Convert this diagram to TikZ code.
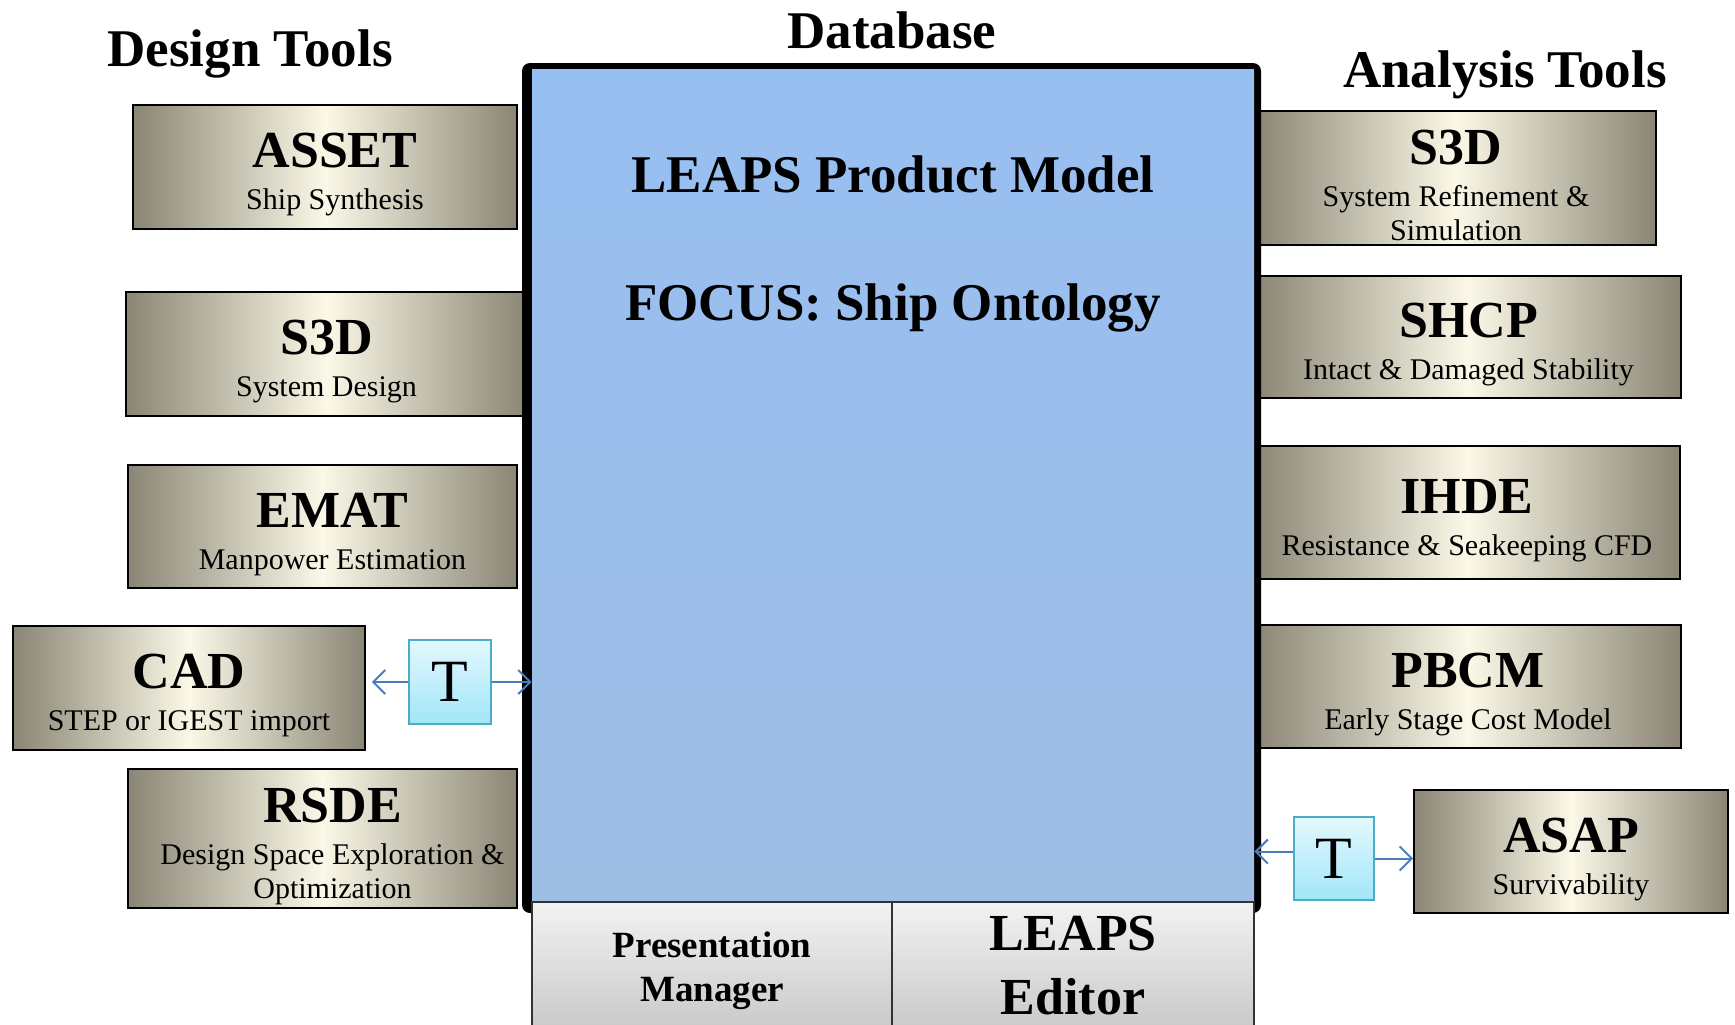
\documentclass[tikz,border=0pt]{standalone}
\usepackage{fontspec}
\setmainfont{Liberation Serif}
\usepackage{tikz}
\usetikzlibrary{arrows.meta}
\definecolor{toolDark}{HTML}{8A8574}
\definecolor{toolLight}{HTML}{FBF8E8}
\definecolor{dbTop}{HTML}{98BFF2}
\definecolor{dbBot}{HTML}{9FBEE4}
\definecolor{panelTop}{HTML}{F2F2F2}
\definecolor{panelBot}{HTML}{C9C9C9}
\definecolor{tTop}{HTML}{E2F8FD}
\definecolor{tBot}{HTML}{A2E6F9}
\definecolor{tEdge}{HTML}{4BACC6}
\definecolor{linkBlue}{HTML}{4A7EBB}
\newcommand{\toolname}[1]{\rule{0pt}{25pt}{\fontsize{26}{26}\selectfont\bfseries #1}}
\newcommand{\nudge}{\hspace*{10pt}}

\begin{document}
\begin{tikzpicture}[x=0.5pt,y=-0.5pt,
  tool/.style={draw=black, line width=0.9pt, left color=toolDark,
    right color=toolDark, middle color=toolLight, align=center,
    inner sep=0pt, font=\fontsize{15}{17}\selectfont},
  ttl/.style={font=\fontsize{26.5}{28}\selectfont\bfseries},
  big/.style={font=\fontsize{26.5}{30}\selectfont\bfseries},
  tbox/.style={draw=tEdge, line width=0.8pt, top color=tTop, bottom color=tBot,
    inner sep=0pt, minimum width=41pt, minimum height=42pt,
    font=\fontsize{30}{30}\selectfont},
  panel/.style={draw=black!80, line width=0.6pt, top color=panelTop,
    bottom color=panelBot, inner sep=0pt, align=center},
  link/.style={draw=linkBlue, line width=1pt,
    -{Straight Barb[length=6pt,width=12pt]}}]
  \useasboundingbox (0,0) rectangle (1735,1024);
  \node[ttl, anchor=base] (designT) at (250,66) {Design Tools};
  \node[ttl, anchor=base] (dbT) at (892,48) {Database};
  \node[ttl, anchor=base] (analysisT) at (1505,87) {Analysis Tools};
  \node[tool, minimum width=192pt, minimum height=62pt] (asset) at (325,167)
    {\nudge\toolname{ASSET}\\[4pt]\nudge Ship Synthesis};
  \node[tool, minimum width=200.5pt, minimum height=62pt] (s3dL) at (326.5,354)
    {\toolname{S3D}\\[4pt]System Design};
  \node[tool, minimum width=194.5pt, minimum height=61.5pt] (emat) at (322.5,526.5)
    {\nudge\toolname{EMAT}\\[4pt]\nudge Manpower Estimation};
  \node[tool, minimum width=176pt, minimum height=62pt] (cad) at (189,688)
    {\toolname{CAD}\\[4pt]STEP or IGEST import};
  \node[tool, minimum width=194.5pt, minimum height=69.5pt] (rsde) at (322.5,838.5)
    {\nudge\toolname{RSDE}\\[4pt]\nudge Design Space Exploration \&\\\nudge Optimization};
  \node[tool, minimum width=200pt, minimum height=67pt] (s3dR) at (1456,178)
    {\toolname{S3D}\\[4pt]System Refinement \&\\Simulation};
  \node[tool, minimum width=212.5pt, minimum height=61pt] (shcp) at (1468.5,337)
    {\toolname{SHCP}\\[4pt]Intact \& Damaged Stability};
  \node[tool, minimum width=213pt, minimum height=66.5pt] (ihde) at (1467,512.5)
    {\toolname{IHDE}\\[4pt]Resistance \& Seakeeping CFD};
  \node[tool, minimum width=213pt, minimum height=61.5pt] (pbcm) at (1468,686.5)
    {\toolname{PBCM}\\[4pt]Early Stage Cost Model};
  \node[tool, minimum width=157pt, minimum height=61.5pt] (asap) at (1571,851.5)
    {\toolname{ASAP}\\[4pt]Survivability};
  \fill[black, rounded corners=4pt] (522,63) rectangle (1261,913);
  \node[top color=dbTop, bottom color=dbBot, inner sep=0pt,
    minimum width=361pt, minimum height=416pt] (db) at (893,485) {};
  \node[big, anchor=base] (pm) at (893,192) {LEAPS Product Model};
  \node[big, anchor=base] (focus) at (893,320) {FOCUS: Ship Ontology};
  \node[panel, minimum width=180pt, minimum height=64pt,
    font=\fontsize{18.5}{22}\selectfont\bfseries] (pres) at (712,966)
    {\rule{0pt}{18pt}Presentation\\Manager};
  \node[panel, minimum width=181pt, minimum height=64pt,
    font=\fontsize{26}{32}\selectfont\bfseries] (editor) at (1073,966)
    {LEAPS\\Editor};
  \node[tbox] (tL) at (450,682) {T};
  \node[tbox, minimum width=40pt, minimum height=41.5pt] (tR) at (1334,858.5) {T};
  \draw[link, shorten >=3pt] (tL.west) -- (tL.west -| cad.east);
  \draw[link] (tL.east) -- (tL.east -| db.west);
  \draw[link] ([yshift=3.5pt]tR.west) -- ([yshift=3.5pt]tR.west -| db.east);
  \draw[link] (tR.east) -- (tR.east -| asap.west);
\end{tikzpicture}
\end{document}
